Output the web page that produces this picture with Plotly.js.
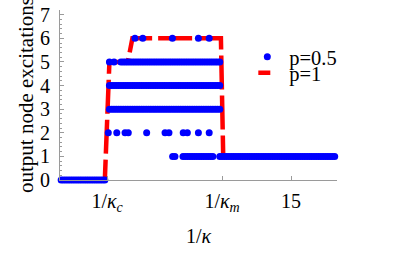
<!DOCTYPE html>
<html>
<head>
<meta charset="utf-8">
<script src="https://cdn.plot.ly/plotly-3.0.1.min.js"></script>
<style>html,body{margin:0;padding:0;background:#fff;}#chart{width:407px;height:254px;}</style>
</head>
<body>
<div id="chart"></div>
<script>
// ---- data (x = 1/kappa, y = output node excitations) ----
// p = 0.5 : sampled points, grouped by excitation level
const xsLevel0 = [5.0,5.1,5.2,5.3,5.4,5.5,5.6,5.7,5.8,5.9,6.0,6.1,6.2,6.3,6.4,6.5,6.6,6.7,6.8,6.9];
const xsLevel1 = [9.85,9.95,
  10.3,10.4,10.5,10.6,10.7,10.8,10.9,11.0,11.1,11.2,11.3,11.4,11.5,11.6,
  11.9,12.0,12.1,12.2,12.3,12.4,12.5,12.6,12.7,12.8,12.9,13.0,13.1,13.2,13.3,13.4,13.5,13.6,13.7,13.8,13.9,
  14.0,14.1,14.2,14.3,14.4,14.5,14.6,14.7,14.8,14.9,15.0,15.1,15.2,15.3,15.4,15.5,15.6,15.7,15.8,15.9,
  16.0,16.1,16.2,16.3,16.4,16.5,16.6,16.7,16.8,16.9];
const xsLevel2 = [7.05,7.42,7.78,7.92,8.72,9.52,9.69,10.31,10.49,10.97,11.44];
const xsLevel3 = [7.1,7.2,7.3,7.4,7.5,7.6,7.7,7.8,7.9,8.0,8.1,8.2,8.3,8.4,8.5,8.6,8.7,8.8,8.9,
  9.0,9.1,9.2,9.3,9.4,9.5,9.6,9.7,9.8,9.9,10.0,10.1,10.2,10.3,10.4,10.5,10.6,10.7,10.8,10.9,
  11.0,11.1,11.2,11.3,11.4,11.5,11.6,11.7,11.8,11.9];
const xsLevel4 = [7.1,7.2,7.3,7.4,7.5,7.6,7.7,7.8,7.9,8.0,8.1,8.2,8.3,8.4,8.5,8.6,8.7,8.8,8.9,
  9.0,9.1,9.2,9.3,9.4,9.5,9.6,9.7,9.8,9.9,10.0,10.1,10.2,10.3,10.4,10.5,10.6,10.7,10.8,10.9,
  11.0,11.1,11.2,11.3,11.4,11.5,11.6,11.7,11.8,11.9];
const xsLevel5 = [7.1,7.3,
  7.6,7.7,7.8,7.9,8.0,8.1,8.2,8.3,8.4,8.5,8.6,8.7,8.8,8.9,
  9.0,9.1,9.2,9.3,9.4,9.5,9.6,9.7,9.8,9.9,10.0,10.1,10.2,10.3,10.4,10.5,10.6,10.7,10.8,10.9,
  11.0,11.1,11.2,11.3,11.4,11.5,11.6,11.7,11.8,11.9];
const xsLevel6 = [8.21,8.55,9.84,10.97,11.44];
const levelValues = [0,1,2,3,4,5,6];

// p = 1 : deterministic curve
const p1X = [5.0, 6.9, 7.1, 7.9, 8.1, 11.95, 12.05, 17.0];
const p1Y = [0, 0, 5, 5, 6, 6, 1, 1];

// axis tick labels
const xTickVals = [7, 12, 15];
const xTickText = ['1/<i>κ</i><sub><i>c</i></sub>', '1/<i>κ</i><sub><i>m</i></sub>', '15'];
const seriesNames = ['p=0.5', 'p=1'];

// ---- build traces ----
const groups = [xsLevel0, xsLevel1, xsLevel2, xsLevel3, xsLevel4, xsLevel5, xsLevel6];
const halfX = [], halfY = [];
groups.forEach((g, i) => { g.forEach(v => { halfX.push(v); halfY.push(levelValues[i]); }); });

const FONT = 'Liberation Serif, Times New Roman, serif';
let dash = '24px,6px';
for (let i = 0; i < 16; i++) dash += ',34px,6px';

const traces = [
  { x: p1X, y: p1Y, type: 'scatter', mode: 'lines', showlegend: false, cliponaxis: false,
    line: { color: '#ff0000', width: 4.5, dash: dash } },
  { x: halfX, y: halfY, type: 'scatter', mode: 'markers', name: seriesNames[0], cliponaxis: false,
    marker: { color: '#0000ff', size: 7, line: { width: 0 } }, legend: 'legend' },
  { x: [null], y: [null], type: 'scatter', mode: 'lines', name: seriesNames[1],
    line: { color: '#ff0000', width: 4.5, dash: '0px,8px,12px,100px' }, legend: 'legend2' }
];

const axisGray = '#9a9a9a';
const layout = {
  width: 407, height: 254,
  margin: { l: 60, r: 70, t: 10, b: 74 },
  paper_bgcolor: '#ffffff', plot_bgcolor: '#ffffff',
  font: { family: FONT, size: 20, color: '#000' },
  showlegend: true,
  xaxis: {
    range: [4.95, 17.0], tickvals: xTickVals, ticktext: xTickText,
    ticks: 'inside', ticklen: 4, tickwidth: 1, tickcolor: axisGray,
    showline: true, linecolor: axisGray, linewidth: 1,
    showgrid: false, zeroline: false, ticklabelstandoff: 3,
    tickfont: { family: FONT, size: 20, color: '#000' },
    title: { text: '1/<i>κ</i>', font: { family: FONT, size: 20, color: '#000' }, standoff: 14 }
  },
  yaxis: {
    range: [0, 7.2], dtick: 1, tick0: 0,
    ticks: 'inside', ticklen: 4, tickwidth: 1, tickcolor: axisGray,
    minor: { dtick: 0.2, ticks: 'inside', ticklen: 2, tickcolor: axisGray, showgrid: false },
    showline: true, linecolor: axisGray, linewidth: 1,
    showgrid: false, zeroline: false, ticklabelstandoff: 5,
    tickfont: { family: FONT, size: 20, color: '#000' },
    title: { text: 'output node excitations', font: { family: FONT, size: 21, color: '#000' }, standoff: 0 }
  },
  legend: { x: 0.669, y: 0.724, xanchor: 'left', yanchor: 'middle', bgcolor: 'rgba(0,0,0,0)',
    font: { family: FONT, size: 20.5, color: '#000' }, itemwidth: 34 },
  legend2: { x: 0.669, y: 0.63, xanchor: 'left', yanchor: 'middle', bgcolor: 'rgba(0,0,0,0)',
    font: { family: FONT, size: 20.5, color: '#000' }, itemwidth: 34 }
};

Plotly.newPlot('chart', traces, layout, { displayModeBar: false, staticPlot: true });
</script>
</body>
</html>
